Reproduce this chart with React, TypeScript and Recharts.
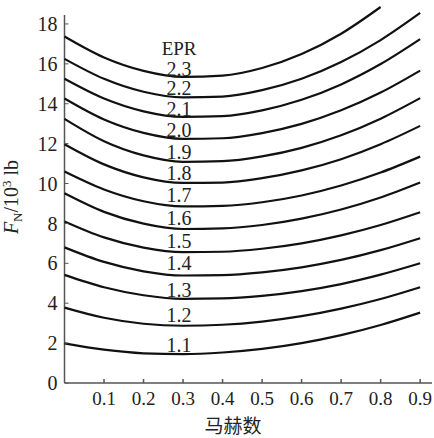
import { LineChart, Line, XAxis, YAxis, ReferenceLine, ReferenceDot } from "recharts";

// Mach number samples shared by every curve
const machX = [0, 0.1, 0.2, 0.3, 0.4, 0.5, 0.6, 0.7, 0.8, 0.9];

// net thrust F_N (10^3 lb) per EPR curve
const epr11 = [1.99, 1.67, 1.49, 1.45, 1.53, 1.71, 2.0, 2.4, 2.91, 3.53];
const epr12 = [3.78, 3.27, 2.97, 2.87, 2.92, 3.08, 3.35, 3.73, 4.21, 4.8];
const epr13 = [5.42, 4.8, 4.4, 4.22, 4.24, 4.37, 4.61, 4.96, 5.43, 6.0];
const epr14 = [6.8, 6.07, 5.6, 5.39, 5.41, 5.55, 5.8, 6.17, 6.66, 7.26];
const epr15 = [8.1, 7.3, 6.79, 6.56, 6.58, 6.73, 7.0, 7.4, 7.92, 8.56];
const epr16 = [9.51, 8.58, 7.99, 7.72, 7.75, 7.92, 8.24, 8.7, 9.3, 10.05];
const epr17 = [10.6, 9.7, 9.11, 8.85, 8.88, 9.06, 9.4, 9.9, 10.55, 11.35];
const epr18 = [11.97, 10.96, 10.31, 10.03, 10.05, 10.27, 10.66, 11.22, 11.97, 12.89];
const epr19 = [13.24, 12.12, 11.41, 11.09, 11.12, 11.36, 11.79, 12.42, 13.25, 14.28];
const epr20 = [14.26, 13.21, 12.54, 12.24, 12.27, 12.53, 12.99, 13.67, 14.56, 15.66];
const epr21 = [15.25, 14.26, 13.62, 13.34, 13.38, 13.67, 14.2, 14.97, 15.99, 17.24];
const epr22 = [16.25, 15.25, 14.6, 14.32, 14.36, 14.68, 15.25, 16.09, 17.19, 18.55];
const epr23 = [17.37, 16.32, 15.65, 15.35, 15.41, 15.79, 16.49, 17.51, 18.85];

// curve labels, written just above each curve near M = 0.29
const eprNames = ["1.1", "1.2", "1.3", "1.4", "1.5", "1.6", "1.7", "1.8", "1.9", "2.0", "2.1", "2.2", "2.3"];
const eprLabelY = [1.93, 3.41, 4.66, 6.04, 7.14, 8.3, 9.43, 10.53, 11.6, 12.71, 13.76, 14.77, 15.77];
const labelX = 0.29;
const titleY = 16.8;

const xTicks = [0.1, 0.2, 0.3, 0.4, 0.5, 0.6, 0.7, 0.8, 0.9];
const yTicks = [0, 2, 4, 6, 8, 10, 12, 14, 16, 18];

const curves = [epr11, epr12, epr13, epr14, epr15, epr16, epr17, epr18, epr19, epr20, epr21, epr22, epr23];

const rows = machX.map((x, i) => {
  const row: Record<string, number | undefined> = { x };
  curves.forEach((c, k) => {
    row["e" + k] = c[i];
  });
  return row;
});

const SERIF = "'Liberation Serif', 'DejaVu Serif', serif";
const AXIS = "#555";
const INK = "#222";

function YLabel() {
  return (
    <text
      x={18}
      y={197}
      transform="rotate(-90, 18, 197)"
      textAnchor="middle"
      fontFamily={SERIF}
      fontSize={20}
      fill={INK}
    >
      <tspan fontStyle="italic">F</tspan>
      <tspan fontSize={13} dy={4}>N</tspan>
      <tspan dy={-4}>/10</tspan>
      <tspan fontSize={13} dy={-7}>3</tspan>
      <tspan dy={7}> lb</tspan>
    </text>
  );
}

function XLabel() {
  return (
    <text
      x={233}
      y={433}
      textAnchor="middle"
      fontFamily="'Noto Sans CJK SC', sans-serif"
      fontSize={19}
      fill={INK}
    >
      马赫数
    </text>
  );
}

export default function App() {
  return (
    <div style={{ width: 434, height: 438, background: "#fff" }}>
      <style>{"body{margin:0}"}</style>
      <LineChart
        width={434}
        height={438}
        data={rows}
        margin={{ top: 6, right: 2, bottom: 0, left: 0 }}
      >
        <XAxis
          type="number"
          dataKey="x"
          domain={[0, 0.93]}
          ticks={xTicks}
          height={55}
          stroke={AXIS}
          strokeWidth={1.5}
          tickSize={-4}
          tickMargin={13}
          tick={{ fill: INK, fontSize: 19, fontFamily: SERIF }}
          label={{ content: XLabel }}
        />
        <YAxis
          type="number"
          domain={[0, 18.9]}
          allowDataOverflow
          ticks={yTicks}
          width={64.5}
          axisLine={false}
          stroke={AXIS}
          tickSize={-4}
          tickMargin={11}
          tick={{ fill: INK, fontSize: 20, fontFamily: SERIF }}
          label={{ content: YLabel }}
        />
        <ReferenceLine
          segment={[
            { x: 0, y: 0 },
            { x: 0, y: 18.45 },
          ]}
          stroke={AXIS}
          strokeWidth={1.5}
        />
        {curves.map((_, k) => (
          <Line
            key={k}
            type="monotone"
            dataKey={"e" + k}
            stroke="#111"
            strokeWidth={2.2}
            dot={false}
            isAnimationActive={false}
          />
        ))}
        <ReferenceDot
          x={labelX}
          y={titleY}
          r={0}
          fill="none"
          stroke="none"
          label={{ value: "EPR", position: "center", fill: INK, fontSize: 19, fontFamily: SERIF }}
        />
        {eprNames.map((name, k) => (
          <ReferenceDot
            key={name}
            x={labelX}
            y={eprLabelY[k]}
            r={0}
            fill="none"
            stroke="none"
            label={{ value: name, position: "center", fill: INK, fontSize: 20, fontFamily: SERIF }}
          />
        ))}
      </LineChart>
    </div>
  );
}
